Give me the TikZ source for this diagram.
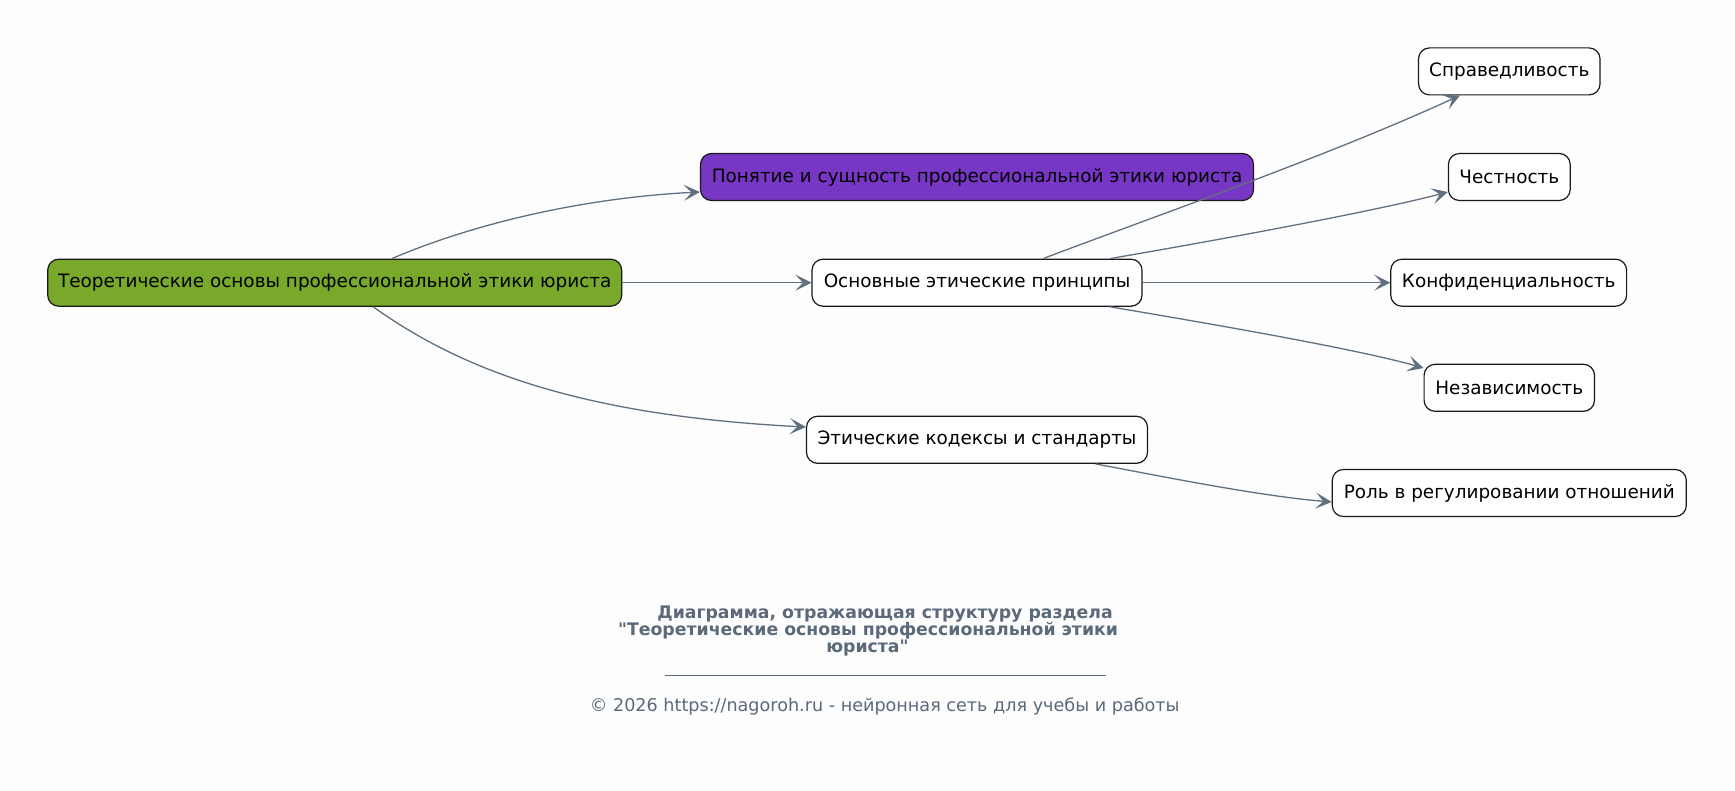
\documentclass[tikz,border=0pt]{standalone}
\usepackage{fontspec}
\setmainfont{DejaVu Sans}
\newfontfamily\capfont{DejaVu Sans}[Ligatures=TeXOff]
\usetikzlibrary{arrows.meta}
\definecolor{edgec}{RGB}{96,112,128}
\definecolor{capc}{RGB}{90,106,122}
\definecolor{rootc}{RGB}{120,169,42}
\definecolor{purc}{RGB}{120,54,196}
\definecolor{bgc}{RGB}{253,253,253}
\begin{document}
\begin{tikzpicture}[x=0.5pt,y=-0.5pt,
  box/.style={draw=black!90, line width=0.6pt, rounded corners=5.5pt,
    minimum height=23.5pt, inner sep=0pt, fill=white, text=black,
    font=\fontsize{9.2}{11}\selectfont},
  conn/.style={draw=edgec, line width=0.65pt,
    -{Stealth[length=8pt,width=8pt,inset=3.8pt]}},
  captxt/.style={text=capc, inner sep=0pt, anchor=base}]
\fill[bgc] (0,0) rectangle (1735,791);
% nodes
\node[box, fill=rootc, minimum width=287pt] (root) at (334.7,282.7) {Теоретические основы профессиональной этики юриста};
\node[box, fill=purc, minimum width=276.5pt] (purple) at (977,177) {Понятие и сущность профессиональной этики юриста};
\node[box, minimum width=165pt] (princ) at (977,282.7) {Основные этические принципы};
\node[box, minimum width=170.5pt] (codes) at (977,439.8) {Этические кодексы и стандарты};
\node[box, minimum width=90.75pt] (just) at (1509.3,71.4) {Справедливость};
\node[box, minimum width=60.9pt] (hon) at (1509.3,177) {Честность};
\node[box, minimum width=117.9pt] (conf) at (1508.7,282.7) {Конфиденциальность};
\node[box, minimum width=85.2pt] (ind) at (1509.3,387.8) {Независимость};
\node[box, minimum width=177pt] (role) at (1509.3,493) {Роль в регулировании отношений};
% edges
\draw[conn] ([xshift=28.6pt]root.north) .. controls (470,225) and (580,198) .. ([yshift=-7.5pt]purple.west);
\draw[conn] (root.east) -- (princ.west);
\draw[conn] ([xshift=19.2pt]root.south) .. controls (455,365) and (570,415) .. ([yshift=6.4pt]codes.west);
\draw[conn] ([xshift=33pt]princ.north) .. controls (1180,207) and (1330,155) .. ([xshift=-24.7pt]just.south);
\draw[conn] ([xshift=66.5pt]princ.north) .. controls (1230,238) and (1380,210) .. ([yshift=-7.5pt]hon.west);
\draw[conn] (princ.east) -- (conf.west);
\draw[conn] ([xshift=66.5pt]princ.south) .. controls (1230,327) and (1360,350) .. ([yshift=9.9pt]ind.west);
\draw[conn] ([xshift=59.3pt]codes.south) .. controls (1170,478) and (1260,496) .. ([yshift=-4.5pt]role.west);
% caption
\node[captxt, font=\capfont\bfseries\fontsize{8.65}{10}\selectfont] (cap1) at (885,618.3) {Диаграмма, отражающая структуру раздела};
\node[captxt, font=\capfont\bfseries\fontsize{8.65}{10}\selectfont] (cap2) at (868,635.7) {"Теоретические основы профессиональной этики};
\node[captxt, font=\capfont\bfseries\fontsize{8.65}{10}\selectfont] (cap3) at (867.5,652.3) {юриста"};
\coordinate (rulel) at (665,675);
\coordinate (ruler) at (1106,675);
\draw[capc, line width=0.5pt] (rulel) -- (ruler);
\node[captxt, font=\capfont\fontsize{8.8}{10}\selectfont] (copy) at (884.7,711.7) {© 2026 https://nagoroh.ru - нейронная сеть для учебы и работы};
\end{tikzpicture}
\end{document}
